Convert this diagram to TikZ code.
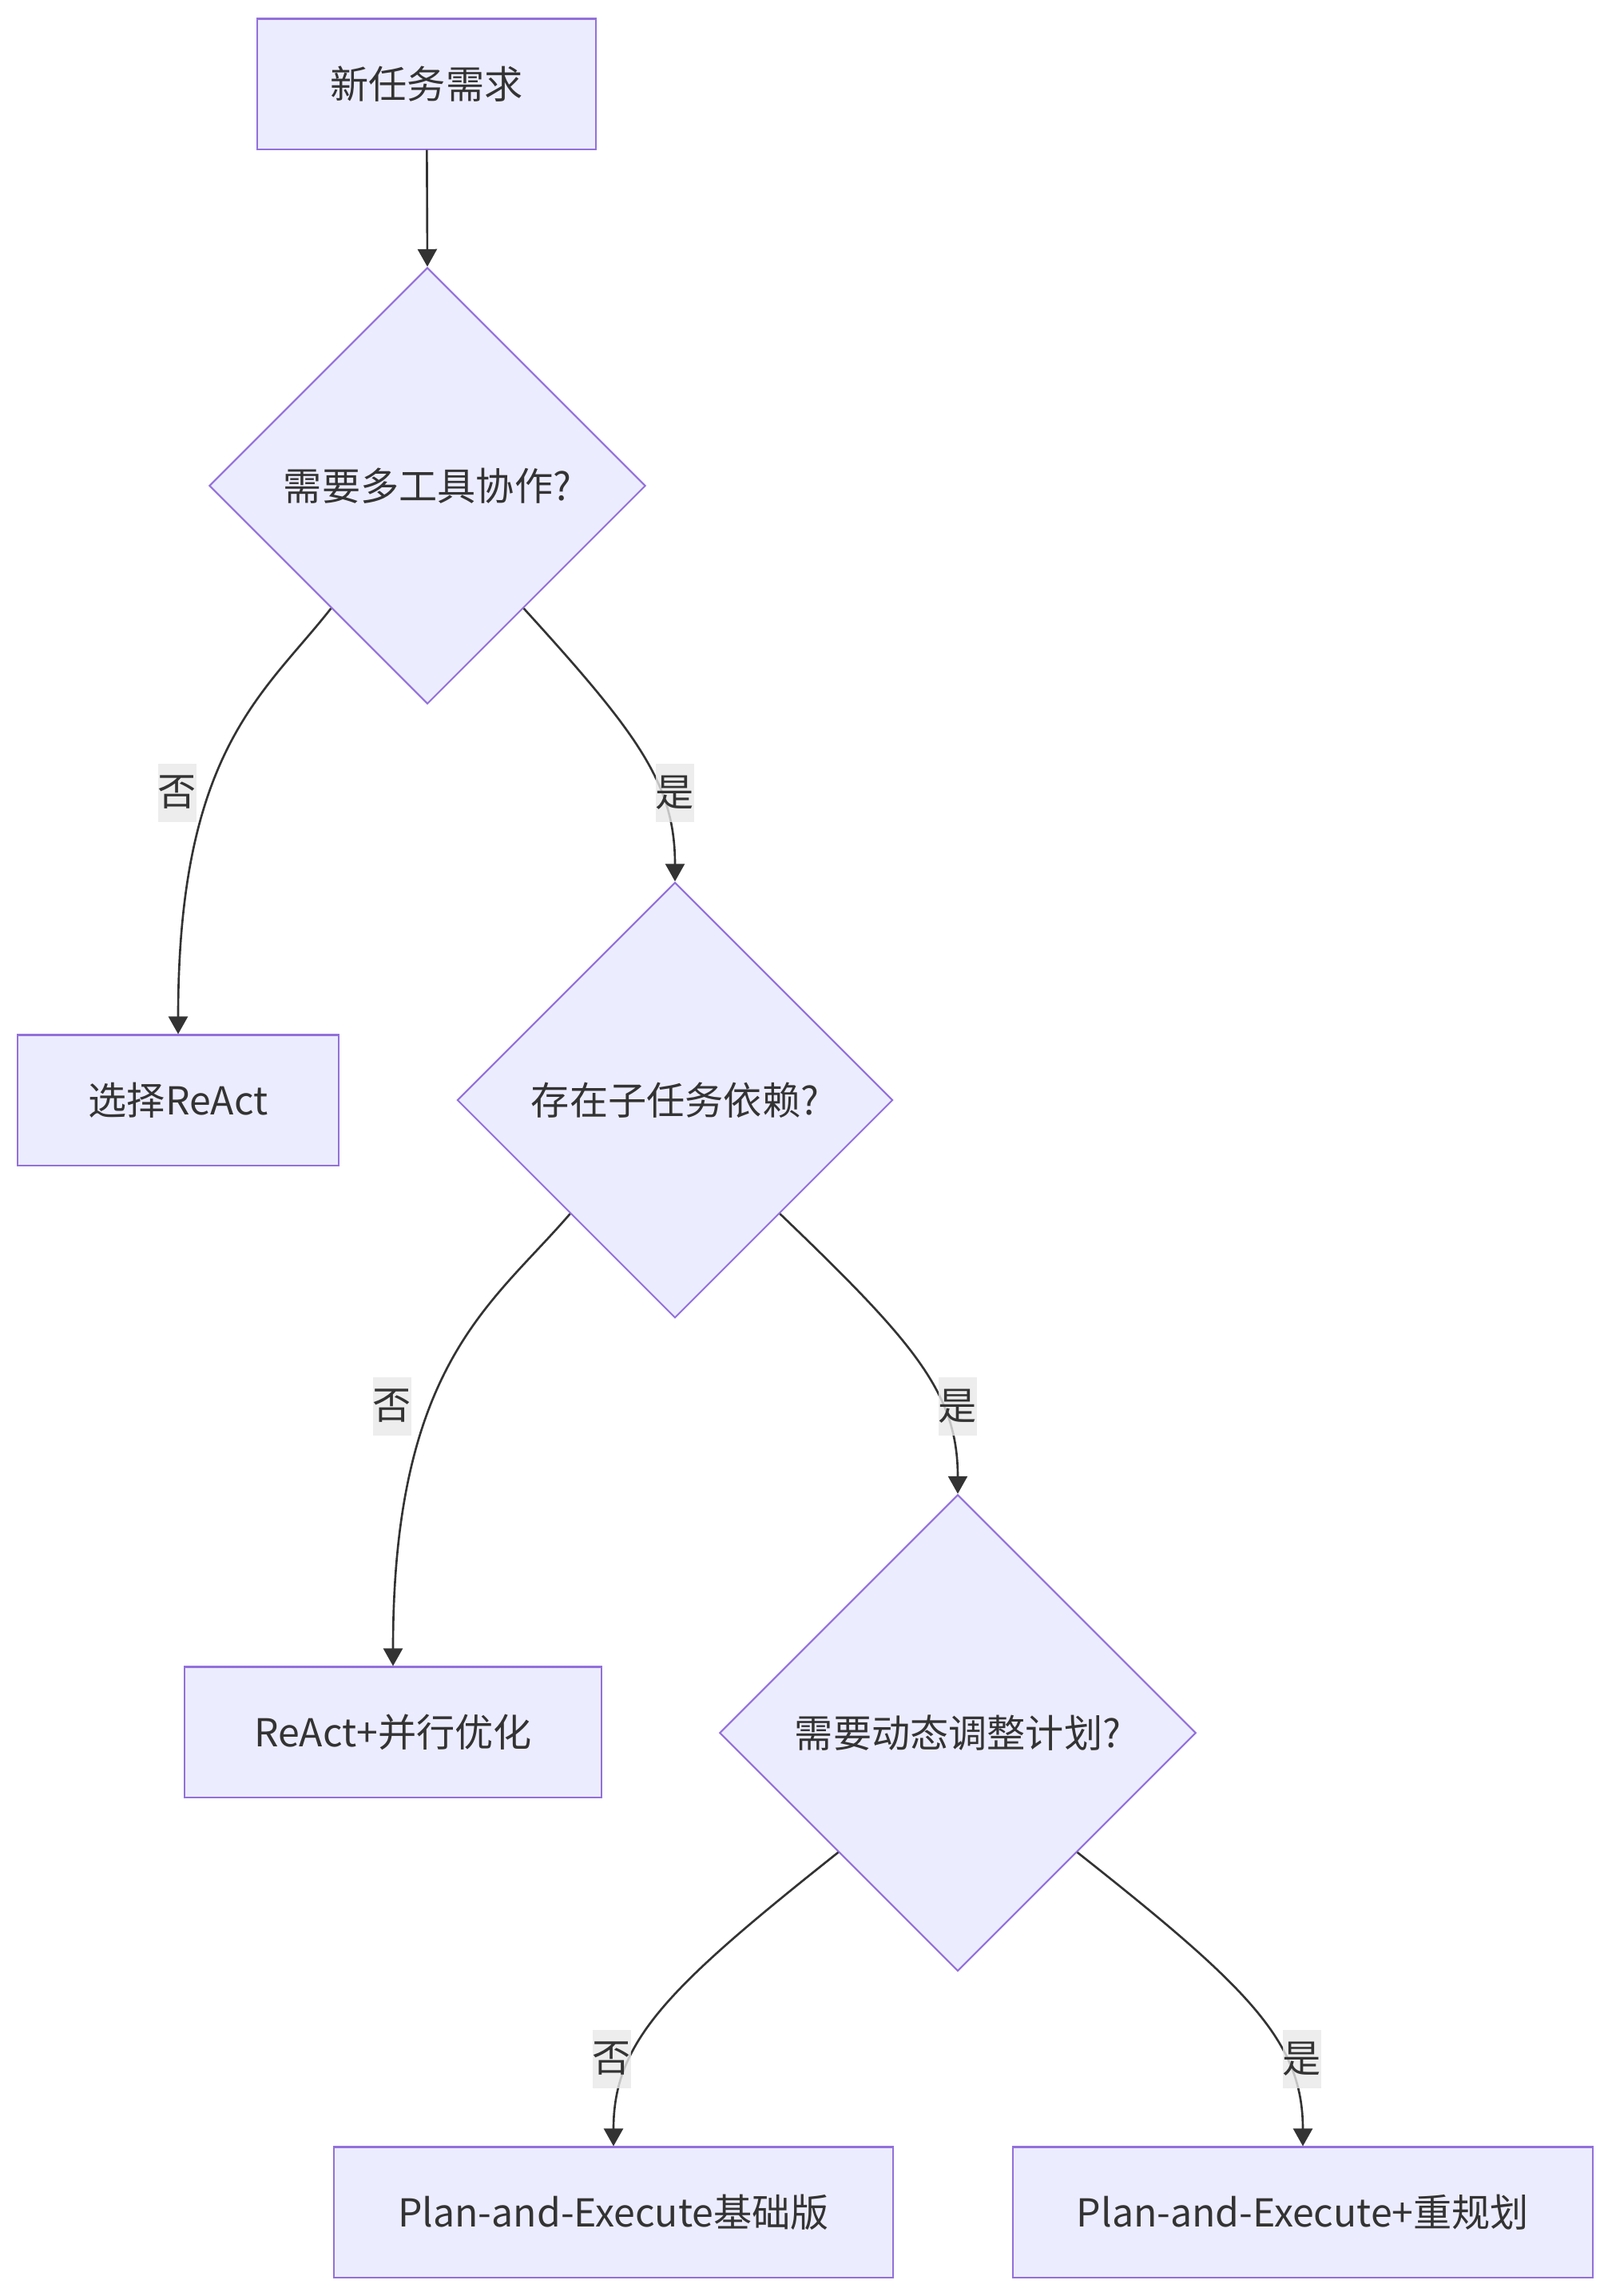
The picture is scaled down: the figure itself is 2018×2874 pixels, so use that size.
\documentclass[tikz,border=0pt]{standalone}
\usepackage{fontspec}
\setmainfont{Noto Sans CJK SC}
\usepackage{xcolor}
\usetikzlibrary{shapes.geometric,arrows.meta,calc}

\definecolor{nodefill}{HTML}{ECECFF}
\definecolor{nodeline}{HTML}{9370DB}
\definecolor{edgeline}{HTML}{333333}
\definecolor{labelbg}{HTML}{E8E8E8}

\tikzset{
    stepbox/.style={draw=nodeline, fill=nodefill, line width=0.6pt, rectangle,
        minimum height=1.63cm, inner sep=0pt, text=edgeline},
    choice/.style={draw=nodeline, fill=nodefill, line width=0.6pt, diamond, aspect=1,
        inner sep=0pt, text=edgeline},
    flow/.style={draw=edgeline, line width=0.75pt, -{Triangle[length=0.22cm,width=0.24cm]}},
    answer/.style={fill=labelbg, fill opacity=0.8, text opacity=1, text=edgeline,
        inner sep=0pt, minimum width=0.46cm, minimum height=0.73cm}
}

\begin{document}
\begin{tikzpicture}[x=0.01cm, y=-0.01cm, font=\fontsize{13.7pt}{16pt}\selectfont]
        \useasboundingbox (0,0) rectangle (2018,2874);

        % Start
        \node[stepbox, minimum width=4.23cm] (task) at (534,105) {新任务需求};

        % Questions
        \node[choice, minimum width=5.46cm, minimum height=5.46cm] (multi) at (535,608) {需要多工具协作?};
        \node[choice, minimum width=5.45cm, minimum height=5.45cm] (dep) at (845,1377) {存在子任务依赖?};
        \node[choice, minimum width=5.96cm, minimum height=5.96cm] (dyn) at (1199,2169) {需要动态调整计划?};

        % Outcomes
        \node[stepbox, minimum width=4.01cm] (react) at (223,1377) {选择ReAct};
        \node[stepbox, minimum width=5.22cm] (reactpar) at (492,2168) {ReAct+并行优化};
        \node[stepbox, minimum width=7.00cm] (pebasic) at (768,2769) {Plan-and-Execute基础版};
        \node[stepbox, minimum width=7.26cm] (pereplan) at (1631,2769) {Plan-and-Execute+重规划};

        % Exit points on the diamonds
        \coordinate (multino) at ($(multi.west)!0.56!(multi.south)$);
        \coordinate (multiyes) at ($(multi.east)!0.56!(multi.south)$);
        \coordinate (depno) at ($(dep.west)!0.52!(dep.south)$);
        \coordinate (depyes) at ($(dep.east)!0.52!(dep.south)$);
        \coordinate (dynno) at ($(dyn.west)!0.5!(dyn.south)$);
        \coordinate (dynyes) at ($(dyn.east)!0.5!(dyn.south)$);

        % Edges
        \draw[flow] (task) -- (multi.north);
        \draw[flow] (multino) .. controls (330,869) and (223,939) .. (react.north);
        \draw[flow] (multiyes) .. controls (800,920) and (845,982) .. (dep.north);
        \draw[flow] (depno) .. controls (616,1633) and (492,1707) .. (reactpar.north);
        \draw[flow] (depyes) .. controls (1145,1681) and (1199,1744) .. (dyn.north);
        \draw[flow] (dynno) .. controls (836,2488) and (768,2555) .. (pebasic.north);
        \draw[flow] (dynyes) .. controls (1563,2488) and (1631,2555) .. (pereplan.north);

        % Edge labels
        \node[answer] (multinolbl) at (222,992) {否};
        \node[answer] (multiyeslbl) at (845,992) {是};
        \node[answer] (depnolbl) at (491,1760) {否};
        \node[answer] (depyeslbl) at (1199,1760) {是};
        \node[answer] (dynnolbl) at (766,2577) {否};
        \node[answer] (dynyeslbl) at (1630,2577) {是};
    \end{tikzpicture}
\end{document}
